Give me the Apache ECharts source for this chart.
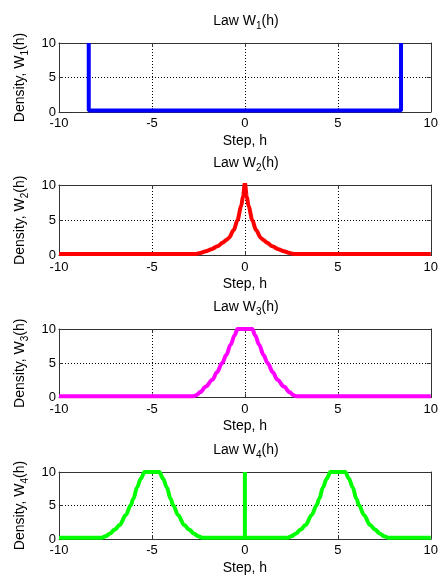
<!DOCTYPE html>
<html>
<head>
<meta charset="utf-8">
<script src="https://cdn.jsdelivr.net/npm/echarts@6/dist/echarts.min.js"></script>
<style>
  html, body { margin: 0; padding: 0; background: #fff; }
  #chart { width: 441px; height: 576px; }
</style>
</head>
<body>
<div id="chart"></div>
<script>
const FONT = '"Liberation Sans", Arial, sans-serif'

// values (step h, density)
const w1X = [-8.4, -8.4, 8.4, 8.4]
const w1Y = [10, 0.2, 0.2, 10]

const w2X = [-10, -2.7, -2.4, -2.1, -1.8, -1.48, -1.2, -1.0, -0.86, -0.6, -0.4, -0.2, -0.1, 0,
  0.1, 0.2, 0.4, 0.6, 0.86, 1.0, 1.2, 1.48, 1.8, 2.1, 2.4, 2.7, 10]
const w2Y = [0.2, 0.2, 0.35, 0.6, 0.9, 1.3, 1.8, 2.2, 2.5, 3.6, 5.0, 7.0, 8.4, 10.3,
  8.4, 7.0, 5.0, 3.6, 2.5, 2.2, 1.8, 1.3, 0.9, 0.6, 0.35, 0.2, 0.2]

const w3X = [-10, -2.75, -2.6, -2.4, -2.1, -1.75, -1.5, -1.23, -1.0, -0.77, -0.55, -0.4, 0,
  0.4, 0.55, 0.77, 1.0, 1.23, 1.5, 1.75, 2.1, 2.4, 2.6, 2.75, 10]
const w3Y = [0.2, 0.2, 0.35, 0.8, 1.6, 2.6, 3.7, 5.0, 6.2, 7.7, 9.1, 10, 10,
  10, 9.1, 7.7, 6.2, 5.0, 3.7, 2.6, 1.6, 0.8, 0.35, 0.2, 0.2]

// two bumps and the baseline of W4
const w4X = [-10, -7.7, -7.5, -7.27, -7.0, -6.74, -6.4, -6.15, -6.0, -5.8, -5.6, -5.4, -5,
  -4.6, -4.4, -4.2, -4.0, -3.85, -3.6, -3.26, -3.0, -2.73, -2.5, -2.3,
  2.3, 2.5, 2.73, 3.0, 3.26, 3.6, 3.85, 4.0, 4.2, 4.4, 4.6, 5,
  5.4, 5.6, 5.8, 6.0, 6.15, 6.4, 6.74, 7.0, 7.27, 7.5, 7.7, 10]
const w4Y = [0.2, 0.2, 0.4, 0.8, 1.4, 2.1, 3.6, 5.0, 6.0, 7.7, 9.0, 10, 10,
  10, 9.0, 7.7, 6.0, 5.0, 3.6, 2.1, 1.4, 0.8, 0.4, 0.2,
  0.2, 0.4, 0.8, 1.4, 2.1, 3.6, 5.0, 6.0, 7.7, 9.0, 10, 10,
  10, 9.0, 7.7, 6.0, 5.0, 3.6, 2.1, 1.4, 0.8, 0.4, 0.2, 0.2]
// the spike of W4 at h = 0
const w4SpikeX = [0, 0]
const w4SpikeY = [0.2, 10]

const lawIndex = ['1', '2', '3', '4']
const lawX = [w1X, w2X, w3X, w4X]
const lawY = [w1Y, w2Y, w3Y, w4Y]
const lawSmooth = [false, 0.3, 0.35, 0.35]
const lawColors = ['#0000ff', '#ff0000', '#ff00ff', '#00ff00']

// subplot boxes
const gridLeft = 59
const gridWidth = 374
const gridTops = [43, 185, 329, 472]
const gridHeights = [69, 70.5, 68.5, 68]

const axisColor = '#333'
const rich = {
  a: { fontSize: 14, fontWeight: 'normal', fontFamily: FONT, color: '#000' },
  s: { fontSize: 10, fontWeight: 'normal', fontFamily: FONT, color: '#000', padding: [10, 0, 0, 0] },
}
const dotted = { show: true, lineStyle: { color: '#000', width: 1, type: [1, 2] } }
const tick = { show: true, inside: true, length: 4, lineStyle: { color: axisColor } }

const grid = []
const xAxis = []
const yAxis = []
const title = []
const series = []

function lineSeries(i, xs, ys, smooth) {
  return {
    type: 'line',
    xAxisIndex: i * 2,
    yAxisIndex: i * 2,
    data: xs.map((x, j) => [x, ys[j]]),
    showSymbol: false,
    smooth: smooth,
    smoothMonotone: 'x',
    clip: true,
    lineStyle: { color: lawColors[i], width: 4 },
    itemStyle: { color: lawColors[i] },
  }
}

lawIndex.forEach((k, i) => {
  grid.push({ left: gridLeft, top: gridTops[i], width: gridWidth, height: gridHeights[i] })
  title.push({
    text: '{a|Law W}{s|' + k + '}{a|(h)}',
    left: gridLeft + gridWidth / 2,
    top: gridTops[i] - 32,
    textAlign: 'center',
    padding: 0,
    textStyle: { fontWeight: 'normal', rich: rich },
  })
  xAxis.push({
    gridIndex: i, type: 'value', min: -10, max: 10, interval: 5,
    axisLine: { onZero: false, lineStyle: { color: axisColor } },
    axisTick: tick,
    axisLabel: { fontSize: 13, fontFamily: FONT, color: '#000', margin: 5 },
    splitLine: dotted,
    name: 'Step, h', nameLocation: 'middle', nameGap: 22,
    nameTextStyle: { fontSize: 14, fontFamily: FONT, color: '#000' },
  })
  xAxis.push({
    gridIndex: i, type: 'value', min: -10, max: 10, interval: 5, position: 'top',
    axisLine: { onZero: false, lineStyle: { color: axisColor } },
    axisTick: tick, axisLabel: { show: false }, splitLine: { show: false },
  })
  yAxis.push({
    gridIndex: i, type: 'value', min: 0, max: 10, interval: 5,
    axisLine: { show: true, onZero: false, lineStyle: { color: axisColor } },
    axisTick: tick,
    axisLabel: { fontSize: 13, fontFamily: FONT, color: '#000', margin: 3 },
    splitLine: dotted,
    name: '{a|Density, W}{s|' + k + '}{a|(h)}', nameLocation: 'middle', nameGap: 28,
    nameTextStyle: { rich: rich },
  })
  yAxis.push({
    gridIndex: i, type: 'value', min: 0, max: 10, interval: 5, position: 'right',
    axisLine: { show: true, onZero: false, lineStyle: { color: axisColor } },
    axisTick: tick, axisLabel: { show: false }, splitLine: { show: false },
  })
  series.push(lineSeries(i, lawX[i], lawY[i], lawSmooth[i]))
})
series.push(lineSeries(3, w4SpikeX, w4SpikeY, false))

const myChart = echarts.init(document.getElementById('chart'))
myChart.setOption({
  animation: false,
  backgroundColor: '#fff',
  title: title,
  grid: grid,
  xAxis: xAxis,
  yAxis: yAxis,
  series: series,
})
</script>
</body>
</html>
